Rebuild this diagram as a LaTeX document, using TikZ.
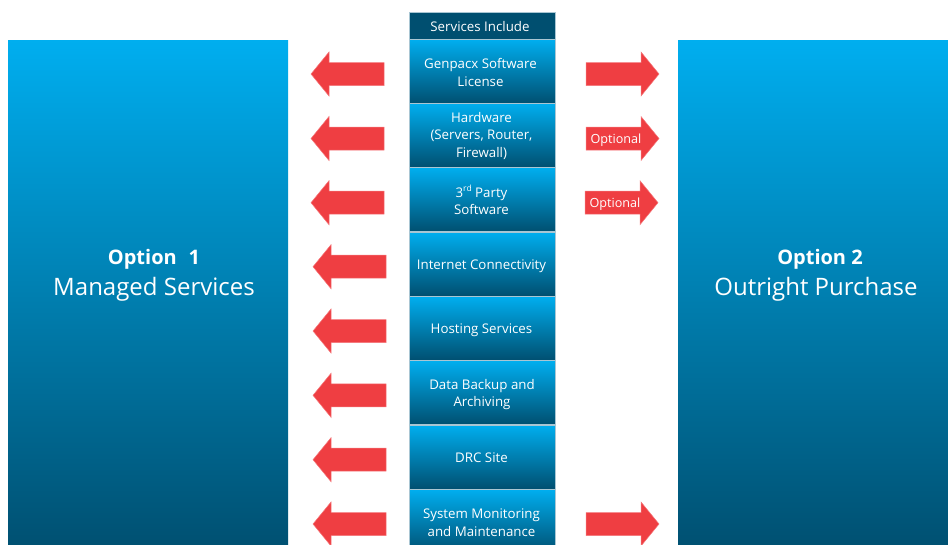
\documentclass[tikz,border=0pt]{standalone}
\usepackage{fontspec}
\setmainfont{Open Sans}
\definecolor{topblue}{HTML}{00AEEF}
\definecolor{botblue}{HTML}{004F70}
\definecolor{edgeblue}{HTML}{A9C6D3}
\definecolor{arrowred}{HTML}{EF3E42}
\tikzset{
  x=1pt,y=-1pt,
  cell/.style={draw=edgeblue,line width=1pt,top color=topblue,bottom color=botblue,minimum width=146pt,minimum height=64pt,inner sep=0pt},
  header/.style={draw=edgeblue,line width=1pt,fill=botblue,minimum width=146pt,minimum height=27pt,inner sep=0pt},
  celltext/.style={text=white,align=center,inner sep=0pt,font=\fontsize{13.3}{17.6}\selectfont},
  panel/.style={top color=topblue,bottom color=botblue,inner sep=0pt},
  paneltext/.style={text=white,align=center,font=\fontsize{24}{31}\selectfont},
  optlabel/.style={text=white,font=\fontsize{12.6}{15}\selectfont,inner sep=0pt},
  blockarrow/.style={fill=arrowred,draw=arrowred!70!white,line width=.5pt}
}
% left arrow: tip x, centre y
\newcommand{\leftarr}[2]{\draw[blockarrow] (#1,#2) -- (#1+18,#2-22) -- (#1+18,#2-11.5) -- (#1+73,#2-11.5) -- (#1+73,#2+11.5) -- (#1+18,#2+11.5) -- (#1+18,#2+22) -- cycle;}
% right arrow: tail x, centre y
\newcommand{\rightarr}[2]{\draw[blockarrow] (#1,#2-11.5) -- (#1+55,#2-11.5) -- (#1+55,#2-22) -- (#1+73,#2) -- (#1+55,#2+22) -- (#1+55,#2+11.5) -- (#1,#2+11.5) -- cycle;}
\newcommand{\ordsup}[1]{\raisebox{5.5pt}{\fontsize{8.5}{10}\selectfont #1}}
\begin{document}
\begin{tikzpicture}
\useasboundingbox (0,0) rectangle (948,544);
\clip (0,0) rectangle (948,544);
\node[panel,minimum width=280pt,minimum height=513pt] (p1) at (148,296.5) {};
\node[panel,minimum width=270pt,minimum height=513pt] (p2) at (813,296.5) {};
\node[paneltext] (t1) at (154,275) {{\bfseries\fontsize{20}{31}\selectfont Option\,\, 1}\\Managed Services};
\node[paneltext] (t2) at (816,275) {\hspace*{8pt}{\bfseries\fontsize{20}{31}\selectfont Option 2}\\Outright Purchase};
\node[header] (h) at (482,25.5) {};
\node[cell] (c1) at (482,71.5) {};
\node[cell] (c2) at (482,135.5) {};
\node[cell] (c3) at (482,199.7) {};
\node[cell] (c4) at (482,264) {};
\node[cell] (c5) at (482,328.3) {};
\node[cell] (c6) at (482,392.7) {};
\node[cell] (c7) at (482,457) {};
\node[cell] (c8) at (482,521.5) {};
\node[celltext] (ht) at (480,26.5) {Services Include};
\node[celltext] (c1t) at (480.5,72.5) {Genpacx Software\\License};
\node[celltext] (c2t) at (481.5,135.7) {Hardware\\(Servers, Router,\\Firewall)};
\node[celltext] (c3t) at (481.5,200) {3\ordsup{rd} Party\\Software};
\node[celltext] (c4t) at (481.5,266) {Internet Connectivity};
\node[celltext] (c5t) at (481.5,330) {Hosting Services};
\node[celltext] (c6t) at (482,394.5) {Data Backup and\\Archiving};
\node[celltext] (c7t) at (481.5,457.5) {DRC Site};
\node[celltext] (c8t) at (481.5,522.5) {System Monitoring\\and Maintenance};
\leftarr{311}{74}
\leftarr{311}{138.5}
\leftarr{311}{202.7}
\leftarr{313}{266.7}
\leftarr{313}{331}
\leftarr{313}{395.3}
\leftarr{313}{459.7}
\leftarr{313}{524}
\rightarr{586}{74}
\rightarr{586}{138.5}
\rightarr{585}{202.7}
\rightarr{586}{524}
\node[optlabel] (o1) at (616,140) {Optional};
\node[optlabel] (o2) at (615,204) {Optional};
\end{tikzpicture}
\end{document}
